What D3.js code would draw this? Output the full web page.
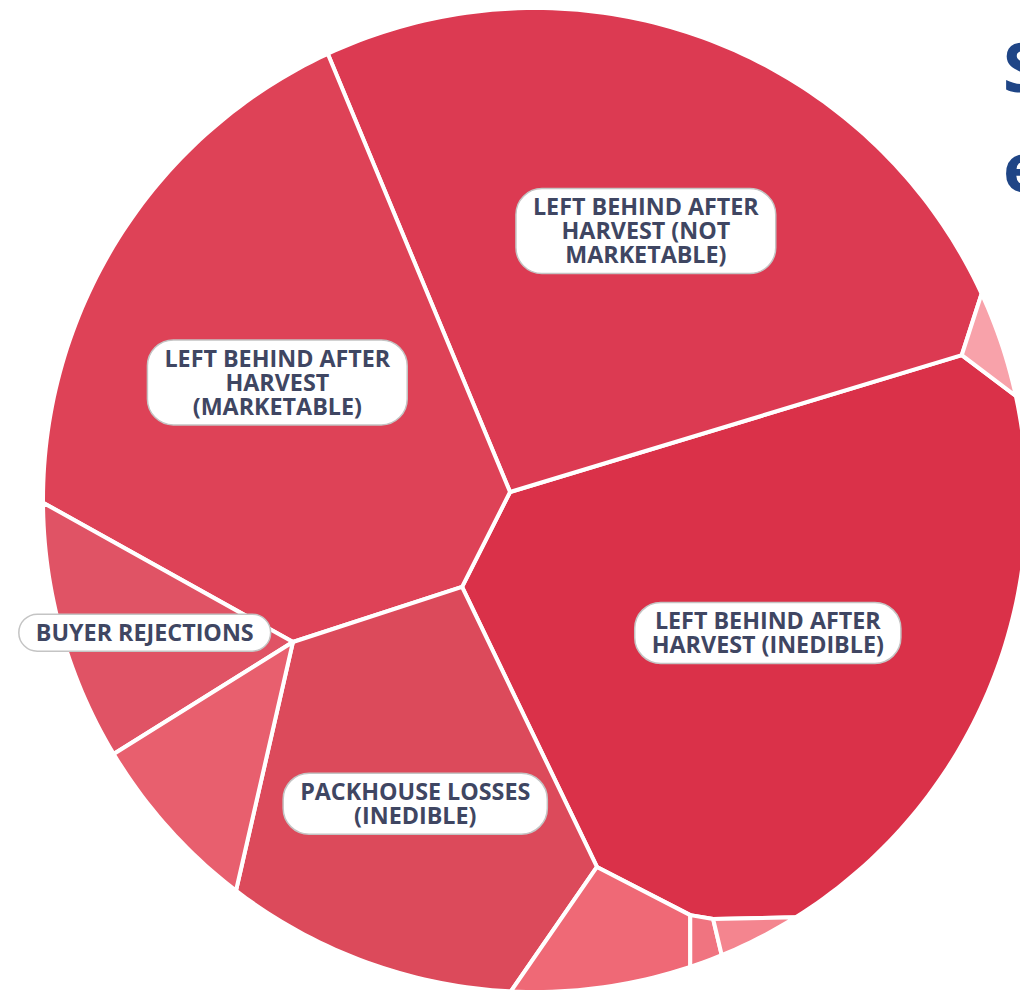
<!DOCTYPE html>
<html><head><meta charset="utf-8">
<script src="https://cdn.jsdelivr.net/npm/d3@7"></script>
<style>body{margin:0;background:#fff;overflow:hidden} svg{display:block}</style>
</head><body>
<svg id="chart" width="1020" height="990"></svg>
<script>
// ---------------- DATA ----------------
const categories = [
  "LEFT BEHIND AFTER HARVEST (INEDIBLE)",
  "LEFT BEHIND AFTER HARVEST (NOT MARKETABLE)",
  "LEFT BEHIND AFTER HARVEST (MARKETABLE)",
  "PACKHOUSE LOSSES (INEDIBLE)",
  "BUYER REJECTIONS",
  "PACKHOUSE LOSSES (MARKETABLE)",
  "PACKHOUSE LOSSES (NOT MARKETABLE)",
  "OTHER LOSSES (A)",
  "OTHER LOSSES (B)",
  "OTHER LOSSES (C)"
];
// share of total (percent)
const values = [28.86, 26.73, 22.62, 12.81, 3.89, 2.65, 1.78, 0.16, 0.21, 0.30];
// layout seeds of the voronoi treemap (unit-circle coordinates)
const seedX = [0.4573, 0.2039, -0.5652, -0.2813, -0.7917, -0.5372, 0.1278, 0.3463, 0.4713, 0.9152];
const seedY = [0.3049, -0.5315, -0.2116, 0.6606, 0.1947, 0.6020, 0.9437, 0.9437, 0.9138, -0.3016];
const labelLines = [
  ["LEFT BEHIND AFTER", "HARVEST (INEDIBLE)"],
  ["LEFT BEHIND AFTER", "HARVEST (NOT", "MARKETABLE)"],
  ["LEFT BEHIND AFTER", "HARVEST", "(MARKETABLE)"],
  ["PACKHOUSE LOSSES", "(INEDIBLE)"],
  ["BUYER REJECTIONS"],
  [], [], [], [], []
];
const titleLines = ["S", "e"];

// ---------------- LAYOUT ----------------
const cellColors = ["#da3149","#dc3a52","#de4257","#dc4a5b","#e05365","#e85f6e","#ef6976","#f07480","#f4858f","#f8a2aa"];
const color = d3.scaleOrdinal().domain(categories).range(cellColors);

const CX = 535, CY = 500, RAD = 492;
const x = d3.scaleLinear().domain([-1, 1]).range([CX - RAD, CX + RAD]);
const y = d3.scaleLinear().domain([-1, 1]).range([CY - RAD, CY + RAD]);
const sites = categories.map((c, i) => [x(seedX[i]), y(seedY[i])]);
const n = sites.length;
const NC = 360;
const circle = d3.range(NC).map(k => {
  const t = 2 * Math.PI * k / NC;
  return [CX + RAD * Math.cos(t), CY + RAD * Math.sin(t), -1];
});

function clipHalf(poly, a0, a1, b, tag) {
  const out = [];
  const m = poly.length;
  for (let k = 0; k < m; k++) {
    const P = poly[k], Q = poly[(k + 1) % m];
    const sp = a0 * P[0] + a1 * P[1] - b, sq = a0 * Q[0] + a1 * Q[1] - b;
    const pin = sp <= 0, qin = sq <= 0;
    if (pin) out.push(P);
    if (pin !== qin) {
      const t = sp / (sp - sq);
      out.push([P[0] + t * (Q[0] - P[0]), P[1] + t * (Q[1] - P[1]), pin ? tag : P[2]]);
    }
  }
  return out;
}
// power diagram cells clipped to the circle
function computeCells(w) {
  return sites.map((pi, i) => {
    let poly = circle.map(p => p.slice());
    for (let j = 0; j < n && poly.length; j++) {
      if (j === i) continue;
      const pj = sites[j];
      const a0 = 2 * (pj[0] - pi[0]), a1 = 2 * (pj[1] - pi[1]);
      const b = (pj[0] * pj[0] + pj[1] * pj[1]) - (pi[0] * pi[0] + pi[1] * pi[1]) - w[j] + w[i];
      poly = clipHalf(poly, a0, a1, b, j);
    }
    return poly;
  });
}
const areaOf = p => p.length > 2 ? Math.abs(d3.polygonArea(p)) : 0;
const circleArea = areaOf(circle);
const total = d3.sum(values);
const target = values.map(v => v / total * circleArea);

// adapt weights so each cell's area matches its value
let w = new Array(n).fill(0);
for (let it = 0; it < 1500; it++) {
  const cs = computeCells(w);
  let maxErr = 0;
  const dw = cs.map((c, i) => {
    const A = areaOf(c);
    maxErr = Math.max(maxErr, Math.abs(target[i] - A) / target[i]);
    let D = 0;
    for (let k = 0; k < c.length; k++) {
      const P = c[k], Q = c[(k + 1) % c.length];
      if (P[2] >= 0) {
        const s = sites[P[2]];
        D += Math.hypot(Q[0] - P[0], Q[1] - P[1]) / (2 * Math.hypot(s[0] - sites[i][0], s[1] - sites[i][1]));
      }
    }
    if (D === 0) return target[i] > A ? 2000 : 0;
    return (target[i] - A) / D;
  });
  w = w.map((v, i) => v + 0.5 * dw[i]);
  if (maxErr < 1e-6) break;
}
const cells = computeCells(w);

// ---------------- DRAW ----------------
const svg = d3.select("#chart");
const line = d3.line().curve(d3.curveLinearClosed);
svg.append("g").selectAll("path").data(cells).join("path")
  .attr("d", c => c.length > 2 ? line(c.map(p => [p[0], p[1]])) : null)
  .attr("fill", (c, i) => color(categories[i]))
  .attr("stroke", "#fff").attr("stroke-width", 4).attr("stroke-linejoin", "round");

const LH = 24, PADX = 17, PADY = 6.5;
const lg = svg.append("g").attr("font-family", "'Open Sans', sans-serif").attr("font-weight", 700).attr("font-size", 23.3);
cells.forEach((c, i) => {
  if (!labelLines[i].length) return;
  const [mx, my] = d3.polygonCentroid(c.map(p => [p[0], p[1]]));
  const g = lg.append("g").attr("transform", `translate(${mx + 3},${my})`);
  const rect = g.append("rect");
  const nl = labelLines[i].length;
  const text = g.append("text").attr("text-anchor", "middle").attr("fill", "#3f4662");
  text.selectAll("tspan").data(labelLines[i]).join("tspan")
    .attr("x", 0).attr("y", (d, k) => (k - (nl - 1) / 2) * LH)
    .attr("dy", "0.35em").text(d => d);
  let mw = 0;
  text.selectAll("tspan").each(function () { mw = Math.max(mw, this.getComputedTextLength()); });
  const W = mw + 2 * PADX, H = nl * LH + 2 * PADY;
  rect.attr("x", -W / 2).attr("y", -H / 2).attr("width", W).attr("height", H)
    .attr("rx", Math.min(H / 2, 26)).attr("fill", "#fff").attr("stroke", "#c4c4c4").attr("stroke-width", 1.5);
});

svg.append("g").selectAll("text").data(titleLines).join("text")
  .attr("x", 1003).attr("y", (d, k) => 92 + k * 100)
  .attr("font-family", "'Open Sans', sans-serif").attr("font-weight", 700).attr("font-size", 68)
  .attr("fill", "#1f4586").text(d => d);
</script>
</body></html>
